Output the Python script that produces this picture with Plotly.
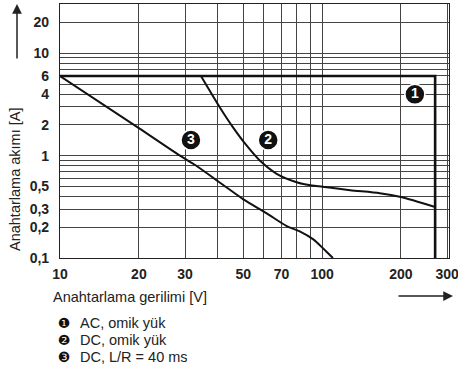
import plotly.graph_objects as go
import math

# ---- data ----
ac_v = [10, 270, 270]
ac_a = [6, 6, 0.1]

dc_v = [34.5, 40.8, 45.8, 51.6, 58, 67.1, 80, 91.3, 100.5, 128, 166, 200, 270]
dc_a = [6, 2.94, 1.88, 1.25, 0.89, 0.665, 0.55, 0.51, 0.497, 0.46, 0.43, 0.394, 0.315]

lr_v = [10, 20, 28.7, 32.8, 40.8, 50.1, 61.5, 73.3, 82.5, 92.6, 101, 110]
lr_a = [6, 1.86, 1.0, 0.81, 0.544, 0.374, 0.273, 0.205, 0.181, 0.152, 0.124, 0.1]

marker_labels = ["1", "2", "3"]
marker_v = [226, 62.3, 31.6]
marker_a = [3.97, 1.42, 1.42]

x_tickvals = [10, 20, 30, 50, 70, 100, 200, 300]
x_ticktext = ["10", "20", "30", "50", "70", "100", "200", "300"]
x_minor = [40, 60, 80, 90]
y_tickvals = [0.1, 0.2, 0.3, 0.5, 1, 2, 4, 6, 10, 20]
y_ticktext = ["0,1", "0,2", "0,3", "0,5", "1", "2", "4", "6", "10", "20"]
y_minor = [0.4, 0.6, 0.7, 0.8, 0.9, 3, 5, 7, 8, 9]

legend_marks = ["❶", "❷", "❸"]
legend_texts = ["AC, omik yük", "DC, omik yük", "DC, L/R = 40 ms"]

FONT = "Liberation Sans, Arial, Helvetica, sans-serif"
GRID = "#444444"

fig = go.Figure()
fig.add_trace(go.Scatter(x=ac_v, y=ac_a, mode="lines",
                         line=dict(color="#111111", width=2.6), hoverinfo="skip"))
fig.add_trace(go.Scatter(x=dc_v, y=dc_a, mode="lines",
                         line=dict(color="#111111", width=2, shape="spline", smoothing=0.7),
                         hoverinfo="skip"))
fig.add_trace(go.Scatter(x=lr_v, y=lr_a, mode="lines",
                         line=dict(color="#111111", width=2, shape="spline", smoothing=0.7),
                         hoverinfo="skip"))
fig.add_trace(go.Scatter(x=marker_v, y=marker_a, mode="markers+text",
                         text=marker_labels, textposition="middle center",
                         textfont=dict(color="white", size=14, family=FONT, weight="bold"),
                         marker=dict(symbol="circle", size=20, color="#111111",
                                     line=dict(color="white", width=1.5)),
                         hoverinfo="skip"))

L, R, T, B = 60, 9, 4, 115
W, H = 458, 373
pw, ph = W - L - R, H - T - B

def px(x):
    return (x - L) / pw

def py(y):
    return (H - B - y) / ph

annotations = []
# y title
annotations.append(dict(text="Anahtarlama akımı [A]", x=px(15), y=py(180),
                        xref="paper", yref="paper", showarrow=False, textangle=-90,
                        xanchor="center", yanchor="middle",
                        font=dict(size=14.5, family=FONT, color="#222")))
# x title
annotations.append(dict(text="Anahtarlama gerilimi [V]", x=px(51), y=py(297),
                        xref="paper", yref="paper", showarrow=False, xanchor="left",
                        yanchor="middle", font=dict(size=14.5, family=FONT, color="#222")))
# arrows
annotations.append(dict(text="", x=px(17), y=py(4), xref="paper", yref="paper",
                        showarrow=True, ax=0, ay=56, arrowhead=2, arrowsize=1.3,
                        arrowwidth=1.5, arrowcolor="#222"))
annotations.append(dict(text="", x=px(453), y=py(296), xref="paper", yref="paper",
                        showarrow=True, ax=-56, ay=0, arrowhead=2, arrowsize=1.3,
                        arrowwidth=1.5, arrowcolor="#222"))
# legend
legend_y = [323, 340, 357]
for m, t, yy in zip(legend_marks, legend_texts, legend_y):
    annotations.append(dict(text=m, x=px(64), y=py(yy), xref="paper", yref="paper",
                            showarrow=False, xanchor="center", yanchor="middle",
                            height=14, width=14, borderpad=0,
                            font=dict(size=14, family="DejaVu Sans", color="#111")))
    annotations.append(dict(text=t, x=px(79), y=py(yy), xref="paper", yref="paper",
                            showarrow=False, xanchor="left", yanchor="middle",
                            height=16, borderpad=0,
                            font=dict(size=14.5, family=FONT, color="#222")))

fig.update_layout(
    width=W, height=H,
    margin=dict(l=L, r=R, t=T, b=B, pad=0, autoexpand=False),
    paper_bgcolor="white", plot_bgcolor="white",
    showlegend=False,
    annotations=annotations,
    xaxis=dict(type="log", range=[1, math.log10(305)], automargin=False,
               tickmode="array", tickvals=x_tickvals, ticktext=x_ticktext,
               tickfont=dict(size=14, family=FONT, color="#222", weight="bold"),
               ticks="", ticklabelstandoff=3, ticklabeloverflow="allow",
               showgrid=True, gridcolor=GRID, gridwidth=1,
               minor=dict(tickvals=x_minor, showgrid=True, gridcolor=GRID, gridwidth=1),
               showline=True, linecolor="#222", linewidth=1.2, mirror=True, zeroline=False),
    yaxis=dict(type="log", range=[-1, math.log10(30.3)], automargin=False,
               tickmode="array", tickvals=y_tickvals, ticktext=y_ticktext,
               tickfont=dict(size=14, family=FONT, color="#222", weight="bold"),
               ticks="", ticklabelstandoff=7, ticklabeloverflow="allow",
               showgrid=True, gridcolor=GRID, gridwidth=1,
               minor=dict(tickvals=y_minor, showgrid=True, gridcolor=GRID, gridwidth=1),
               showline=True, linecolor="#222", linewidth=1.2, mirror=True, zeroline=False),
)

fig.write_html("out.html", config={"displayModeBar": False},
               post_script="document.body.style.margin='0';document.body.style.overflow='hidden';")
